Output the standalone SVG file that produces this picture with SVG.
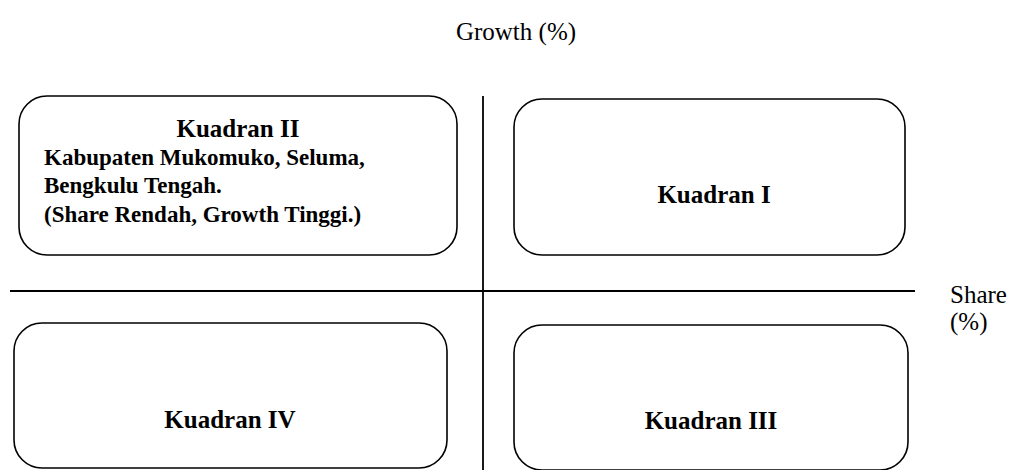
<svg xmlns="http://www.w3.org/2000/svg" width="1013" height="470" viewBox="0 0 1013 470">
<style>
.box{fill:#fff;stroke:#000;stroke-width:1.6}
.axis{stroke:#000;stroke-width:1.8}
.b{font-family:"Liberation Serif","Times New Roman",serif;font-weight:bold;font-size:23px;fill:#000}
.h{font-family:"Liberation Serif","Times New Roman",serif;font-weight:bold;font-size:25px;fill:#000}
.r{font-family:"Liberation Serif","Times New Roman",serif;font-size:25px;fill:#000}
</style>
<rect width="1013" height="470" fill="#fff"/>
<g id="connectors">
<line class="axis" x1="483" y1="96" x2="483" y2="470"/>
<line class="axis" x1="10" y1="291" x2="915" y2="291"/>
</g>
<text class="r" x="516" y="40" text-anchor="middle">Growth (%)</text>
<text class="r" x="950" y="303">Share</text>
<text class="r" x="950" y="330">(%)</text>
<g id="q2">
<rect class="box" x="19" y="96" width="438" height="159" rx="28"/>
<text class="h" x="238" y="137" text-anchor="middle">Kuadran II</text>
<text class="b" x="44" y="165">Kabupaten Mukomuko, Seluma,</text>
<text class="b" x="44" y="193">Bengkulu Tengah.</text>
<text class="b" x="44" y="222">(Share Rendah, Growth Tinggi.)</text>
</g>
<g id="q1">
<rect class="box" x="514" y="99" width="391" height="156" rx="28"/>
<text class="h" x="714" y="203" text-anchor="middle">Kuadran I</text>
</g>
<g id="q4">
<rect class="box" x="14" y="323" width="433" height="145" rx="28"/>
<text class="h" x="230" y="428" text-anchor="middle">Kuadran IV</text>
</g>
<g id="q3">
<rect class="box" x="514" y="325" width="394" height="145" rx="28"/>
<text class="h" x="711" y="429" text-anchor="middle">Kuadran III</text>
</g>
</svg>
